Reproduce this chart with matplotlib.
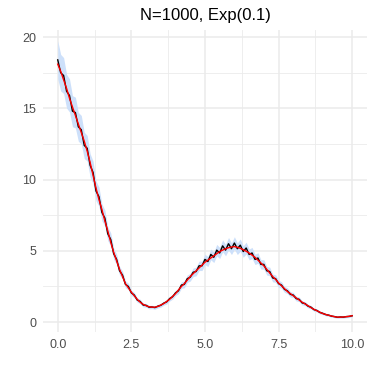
import matplotlib
matplotlib.use("Agg")
import matplotlib.pyplot as plt
import numpy as np

plt.rcParams['font.family'] = ['Liberation Sans', 'DejaVu Sans']

# grid of evaluation points (step 0.1)
x = np.linspace(0, 10, 101)

# noisy estimate (black)
estimate = [
    18.4, 17.5, 17.3, 16.2, 15.9, 14.8, 14.7, 13.7, 13.5, 12.4,
    12.2, 11.0, 10.5, 9.2, 8.8, 7.7, 7.3, 6.2, 5.8, 4.8,
    4.4, 3.6, 3.3, 2.65, 2.5, 2.05, 1.9, 1.55, 1.45, 1.2,
    1.18, 1.05, 1.06, 1.02, 1.12, 1.18, 1.33, 1.42, 1.65, 1.78,
    2.05, 2.2, 2.6, 2.65, 3.05, 3.15, 3.5, 3.55, 3.95, 3.95,
    4.4, 4.25, 4.75, 4.55, 5.05, 4.85, 5.35, 5.05, 5.5, 5.15,
    5.55, 5.15, 5.4, 4.95, 5.2, 4.75, 4.85, 4.4, 4.5, 4.05,
    4.05, 3.6, 3.55, 3.1, 3.05, 2.7, 2.6, 2.3, 2.2, 1.95,
    1.9, 1.65, 1.6, 1.35, 1.3, 1.12, 1.05, 0.88, 0.82, 0.68,
    0.62, 0.53, 0.49, 0.42, 0.39, 0.34, 0.36, 0.35, 0.39, 0.4,
    0.45,
]

# half width of the confidence band
halfwidth = [
    1.34, 1.28, 1.26, 1.18, 1.16, 1.09, 1.08, 1.01, 1.00, 0.92,
    0.90, 0.82, 0.79, 0.69, 0.67, 0.59, 0.56, 0.48, 0.46, 0.39,
    0.36, 0.30, 0.28, 0.24, 0.23, 0.19, 0.18, 0.16, 0.15, 0.13,
    0.13, 0.12, 0.12, 0.12, 0.13, 0.13, 0.14, 0.15, 0.17, 0.17,
    0.19, 0.20, 0.23, 0.24, 0.26, 0.27, 0.30, 0.30, 0.33, 0.33,
    0.36, 0.35, 0.38, 0.37, 0.40, 0.39, 0.42, 0.40, 0.44, 0.41,
    0.44, 0.41, 0.43, 0.40, 0.41, 0.38, 0.39, 0.36, 0.37, 0.33,
    0.33, 0.30, 0.30, 0.27, 0.26, 0.24, 0.23, 0.21, 0.20, 0.19,
    0.18, 0.17, 0.16, 0.14, 0.14, 0.13, 0.12, 0.11, 0.11, 0.10,
    0.09, 0.09, 0.08, 0.08, 0.08, 0.07, 0.08, 0.07, 0.08, 0.08,
    0.08,
]

# true intensity (red)
truth = [
    18.1, 17.6, 17.0, 16.4, 15.7, 15.1, 14.5, 13.9, 13.3, 12.7,
    12.0, 11.2, 10.3, 9.4, 8.6, 7.9, 7.1, 6.4, 5.6, 4.9,
    4.3, 3.7, 3.2, 2.7, 2.4, 2.1, 1.85, 1.6, 1.4, 1.25,
    1.15, 1.08, 1.05, 1.05, 1.1, 1.2, 1.3, 1.45, 1.6, 1.8,
    2.0, 2.25, 2.5, 2.7, 2.95, 3.2, 3.4, 3.6, 3.8, 4.0,
    4.2, 4.35, 4.5, 4.65, 4.8, 4.95, 5.05, 5.15, 5.22, 5.27,
    5.3, 5.25, 5.18, 5.08, 4.97, 4.85, 4.7, 4.55, 4.35, 4.15,
    3.95, 3.7, 3.45, 3.2, 3.0, 2.75, 2.55, 2.35, 2.15, 2.0,
    1.85, 1.7, 1.55, 1.4, 1.28, 1.15, 1.02, 0.9, 0.8, 0.7,
    0.6, 0.54, 0.48, 0.43, 0.38, 0.35, 0.35, 0.36, 0.38, 0.41,
    0.45,
]

est = np.array(estimate)
hw = np.array(halfwidth)

fig = plt.figure(figsize=(3.74, 3.74), dpi=100)
ax = fig.add_axes([0.115, 0.112, 0.866, 0.808])

ax.fill_between(x, est - hw, est + hw, color='#cde0fa', lw=0)
ax.plot(x, est, color='black', lw=1.0)
ax.plot(x, truth, color='#ff0000', lw=1.0)

ax.set_xlim(-0.5, 10.5)
ax.set_ylim(-0.7, 20.5)
ax.set_xticks([0, 2.5, 5, 7.5, 10])
ax.set_xticklabels(['0.0', '2.5', '5.0', '7.5', '10.0'])
ax.set_yticks([0, 5, 10, 15, 20])
ax.set_xticks([1.25, 3.75, 6.25, 8.75], minor=True)
ax.set_yticks([2.5, 7.5, 12.5, 17.5], minor=True)

ax.grid(True, which='major', color='#ebebeb', lw=1.1)
ax.grid(True, which='minor', color='#ebebeb', lw=0.6)
ax.set_axisbelow(True)
for s in ax.spines.values():
    s.set_visible(False)
ax.tick_params(which='both', length=0, labelsize=9, labelcolor='#4d4d4d', pad=5)

ax.set_title('N=1000, Exp(0.1)', fontsize=12, pad=7)

fig.savefig('out.png', dpi=100)
